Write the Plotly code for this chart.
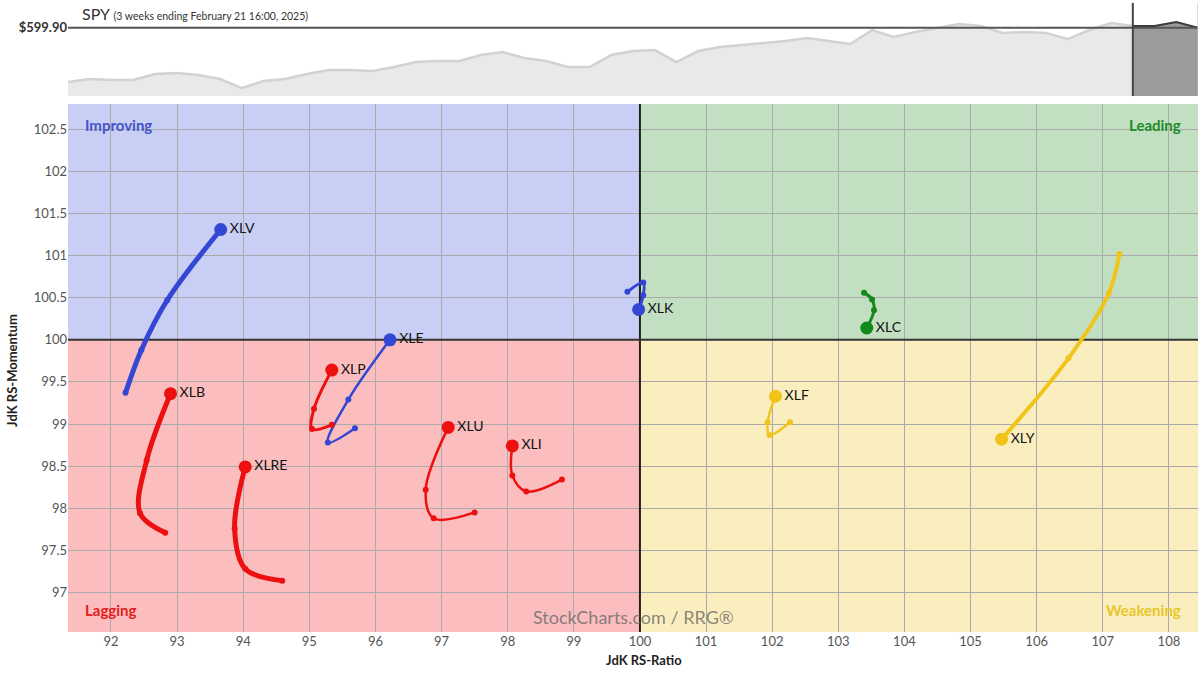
import plotly.graph_objects as go

# ---------------- data ----------------
spy_price = [583.61, 584.51, 584.21, 584.21, 586.01, 586.31, 585.71, 584.51, 581.81, 583.91,
             584.51, 586.01, 587.21, 587.21, 586.91, 588.11, 589.61, 589.91, 589.91, 591.71,
             592.61, 590.81, 589.91, 588.11, 588.11, 591.71, 592.91, 593.21, 589.61, 592.91,
             594.11, 594.71, 595.31, 595.91, 596.81, 595.91, 595.01, 599.21, 597.11, 598.61,
             599.81, 601.01, 600.41, 598.31, 598.61, 598.31, 596.51, 599.21, 601.31, 600.41,
             600.41, 601.61, 599.90]
spy_last = 599.90
window_start = 49  # start of the 3-week window (dark segment)

sectors = ["XLV", "XLB", "XLRE", "XLE", "XLP", "XLU", "XLI", "XLK", "XLC", "XLF", "XLY"]
rs_ratio = {
    "XLV": [92.22, 92.46, 92.85, 93.66],
    "XLB": [92.82, 92.44, 92.54, 92.90],
    "XLRE": [94.59, 94.03, 93.87, 94.03],
    "XLE": [95.69, 95.28, 95.59, 96.22],
    "XLP": [95.34, 95.04, 95.07, 95.34],
    "XLU": [97.50, 96.88, 96.76, 97.10],
    "XLI": [98.82, 98.28, 98.07, 98.07],
    "XLK": [99.81, 100.05, 100.05, 99.98],
    "XLC": [103.39, 103.51, 103.54, 103.43],
    "XLF": [102.27, 101.96, 101.93, 102.05],
    "XLY": [107.25, 107.09, 106.48, 105.47],
}
rs_momentum = {
    "XLV": [99.37, 99.88, 100.47, 101.31],
    "XLB": [97.71, 97.94, 98.57, 99.36],
    "XLRE": [97.14, 97.28, 97.76, 98.49],
    "XLE": [98.95, 98.78, 99.29, 100.00],
    "XLP": [98.99, 98.94, 99.18, 99.64],
    "XLU": [97.95, 97.88, 98.22, 98.96],
    "XLI": [98.34, 98.20, 98.39, 98.74],
    "XLK": [100.57, 100.68, 100.53, 100.36],
    "XLC": [100.56, 100.48, 100.35, 100.14],
    "XLF": [99.02, 98.87, 99.02, 99.33],
    "XLY": [101.02, 100.55, 99.78, 98.82],
}
x_ticks = [92, 93, 94, 95, 96, 97, 98, 99, 100, 101, 102, 103, 104, 105, 106, 107, 108]
y_ticks = [97, 97.5, 98, 98.5, 99, 99.5, 100, 100.5, 101, 101.5, 102, 102.5]
y_tick_text = ["97", "97.5", "98", "98.5", "99", "99.5", "100", "100.5", "101", "101.5", "102", "102.5"]

# ---------------- styles ----------------
BLUE = "#3347d4"
RED = "#ec1010"
GREEN = "#13891a"
YELLOW = "#f0c41b"
style = {
    "XLV": (BLUE, 5), "XLB": (RED, 5), "XLRE": (RED, 5), "XLE": (BLUE, 2.5),
    "XLP": (RED, 3), "XLU": (RED, 2.5), "XLI": (RED, 2.5), "XLK": (BLUE, 3),
    "XLC": (GREEN, 3), "XLF": (YELLOW, 2.5), "XLY": (YELLOW, 4),
}
FONT = "Lato"

fig = go.Figure()

# ---------------- RRG tails ----------------
for s in sectors:
    col, w = style[s]
    n = len(rs_ratio[s])
    fig.add_trace(go.Scatter(
        x=rs_ratio[s], y=rs_momentum[s],
        mode="lines+markers+text",
        line=dict(color=col, width=w, shape="spline", smoothing=1),
        marker=dict(color=col, size=[6] * (n - 1) + [13], opacity=1, line=dict(width=0)),
        text=[""] * (n - 1) + [s],
        textposition="middle right",
        textfont=dict(family=FONT, size=14, color="#111"),
        cliponaxis=False,
        hoverinfo="skip", showlegend=False,
        xaxis="x", yaxis="y",
    ))

# ---------------- SPY panel ----------------
idx = list(range(len(spy_price)))
fig.add_trace(go.Scatter(
    x=idx[:window_start + 1], y=spy_price[:window_start + 1],
    mode="lines", fill="tozeroy", fillcolor="#e9e9e9",
    line=dict(color="#d2d2d2", width=2.5),
    hoverinfo="skip", showlegend=False, xaxis="x2", yaxis="y2",
))
fig.add_trace(go.Scatter(
    x=idx[window_start:], y=spy_price[window_start:],
    mode="lines", fill="tozeroy", fillcolor="#9b9b9b",
    line=dict(color="#3a3a3a", width=2),
    hoverinfo="skip", showlegend=False, xaxis="x2", yaxis="y2",
))

XR = [91.35, 108.44]
YR = [96.53, 102.80]

shapes = [
    # quadrants
    dict(type="rect", xref="x", yref="y", x0=XR[0], x1=100, y0=100, y1=YR[1],
         fillcolor="#c9cef4", line=dict(width=0), layer="below"),
    dict(type="rect", xref="x", yref="y", x0=100, x1=XR[1], y0=100, y1=YR[1],
         fillcolor="#c3dfc1", line=dict(width=0), layer="below"),
    dict(type="rect", xref="x", yref="y", x0=XR[0], x1=100, y0=YR[0], y1=100,
         fillcolor="#fbbdbd", line=dict(width=0), layer="below"),
    dict(type="rect", xref="x", yref="y", x0=100, x1=XR[1], y0=YR[0], y1=100,
         fillcolor="#fbeebe", line=dict(width=0), layer="below"),
    # centre lines
    dict(type="line", xref="x", yref="y", x0=100, x1=100, y0=YR[0], y1=YR[1],
         line=dict(color="#222", width=2), layer="between"),
    dict(type="line", xref="x", yref="y", x0=XR[0], x1=XR[1], y0=100, y1=100,
         line=dict(color="#333", width=2), layer="between"),
    # SPY panel lines
    dict(type="line", xref="x2 domain", yref="y2", x0=0, x1=1, y0=spy_last, y1=spy_last,
         line=dict(color="#555", width=2), layer="above"),
    dict(type="line", xref="x2", yref="y2 domain", x0=window_start, x1=window_start, y0=0, y1=0.97,
         line=dict(color="#444", width=2), layer="above"),
    dict(type="line", xref="x2", yref="y2 domain", x0=idx[-1], x1=idx[-1], y0=0, y1=0.97,
         line=dict(color="#bbb", width=1), layer="above"),
]

annotations = [
    dict(text="Improving", xref="paper", yref="paper", x=0.0133, y=0.802, xanchor="left",
         yanchor="middle", showarrow=False, font=dict(family=FONT, size=15, color="#4653c8", weight="bold")),
    dict(text="Leading", xref="paper", yref="paper", x=0.9867, y=0.802, xanchor="right",
         yanchor="middle", showarrow=False, font=dict(family=FONT, size=15, color="#1e8c2a", weight="bold")),
    dict(text="Lagging", xref="paper", yref="paper", x=0.0133, y=0.0348, xanchor="left",
         yanchor="middle", showarrow=False, font=dict(family=FONT, size=15, color="#e02020", weight="bold")),
    dict(text="Weakening", xref="paper", yref="paper", x=0.9867, y=0.0348, xanchor="right",
         yanchor="middle", showarrow=False, font=dict(family=FONT, size=15, color="#e8c62a", weight="bold")),
    dict(text="StockCharts.com / RRG®", xref="paper", yref="paper", x=0.5, y=0.0237,
         xanchor="center", yanchor="middle", showarrow=False,
         font=dict(family=FONT, size=18, color="rgba(105,105,105,0.8)")),
    dict(text="JdK RS-Ratio", xref="paper", yref="paper", x=0.5097, y=-0.0443,
         xanchor="center", yanchor="middle", showarrow=False,
         font=dict(family=FONT, size=13, color="#222", weight="bold")),
    dict(text="JdK RS-Momentum", xref="paper", yref="paper", x=-0.0496, y=0.4146,
         xanchor="center", yanchor="middle", showarrow=False, textangle=-90,
         font=dict(family=FONT, size=13, color="#222", weight="bold")),
    dict(text="SPY <span style='font-size:10.5px'>(3 weeks ending February 21 16:00, 2025)</span>",
         xref="paper", yref="paper", x=0.0106, y=0.979, xanchor="left", yanchor="middle",
         showarrow=False, font=dict(family=FONT, size=16, color="#333")),
]

fig.update_layout(
    width=1200, height=675,
    margin=dict(l=68, r=2, t=0, b=43),
    paper_bgcolor="white", plot_bgcolor="white",
    showlegend=False,
    font=dict(family=FONT),
    xaxis=dict(domain=[0, 1], range=XR, tickvals=x_ticks, showgrid=True, gridcolor="#aaaaaa",
               gridwidth=1, zeroline=False, showline=False, ticks="",
               tickfont=dict(family=FONT, size=13, color="#555"), anchor="y", fixedrange=True),
    yaxis=dict(domain=[0, 0.8354], range=YR, tickvals=y_ticks, ticktext=y_tick_text,
               showgrid=True, gridcolor="#aaaaaa", gridwidth=1, zeroline=False, showline=False,
               ticks="", tickfont=dict(family=FONT, size=13, color="#555"), anchor="x",
               fixedrange=True),
    xaxis2=dict(domain=[0, 1], range=[0, idx[-1]], showgrid=False, zeroline=False,
                showticklabels=False, showline=False, ticks="", anchor="y2", fixedrange=True),
    yaxis2=dict(domain=[0.848, 1], range=[579.41, 608.21], tickvals=[spy_last],
                ticktext=["$599.90"], showgrid=False, zeroline=False, showline=False,
                ticks="", tickfont=dict(family=FONT, size=13, color="#333", weight="bold"),
                anchor="x2", fixedrange=True),
    shapes=shapes,
    annotations=annotations,
)

fig.write_html("out.html",
               config={"displayModeBar": False},
               post_script="document.body.style.margin='0';document.body.style.padding='0';")
